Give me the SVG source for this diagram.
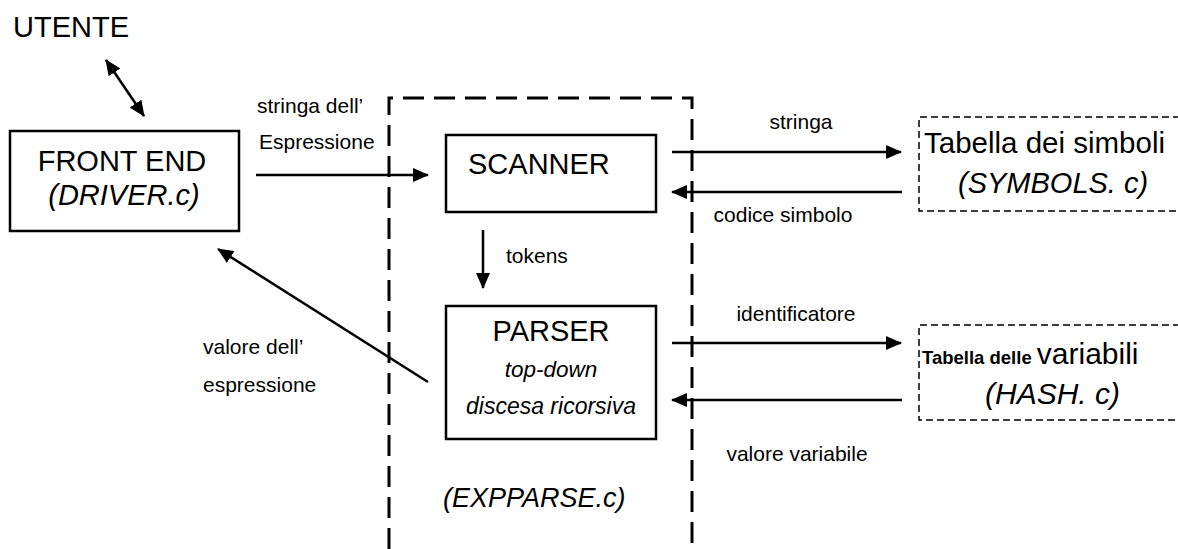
<svg xmlns="http://www.w3.org/2000/svg" width="1178" height="549" viewBox="0 0 1178 549">
<defs>
<marker id="ah" markerUnits="userSpaceOnUse" markerWidth="16" markerHeight="14" refX="15" refY="7" orient="auto-start-reverse">
<path d="M0,0 L16,7 L0,14 Z" fill="#000"/>
</marker>
<style>
.t{font-family:"Liberation Sans",Arial,sans-serif;fill:#000}
.big{font-size:29px}
.sm{font-size:21px}
.it{font-style:italic}
.box{fill:#fff;stroke:#000;stroke-width:2.5}
.dbox{fill:none;stroke:#000;stroke-width:1.5;stroke-dasharray:7,4}
.conn{stroke:#000;stroke-width:2.5;fill:none}
</style>
</defs>
<rect width="1178" height="549" fill="#fff"/>

<g id="expparse">
<path d="M389,549 V98 H692 V549" fill="none" stroke="#000" stroke-width="3" stroke-dasharray="21,10"/>
<text class="t it" style="font-size:27px" x="443" y="507">(EXPPARSE.c)</text>
</g>

<g id="utente">
<text class="t big" x="13" y="37">UTENTE</text>
</g>

<g id="frontend">
<rect class="box" x="10" y="131" width="229" height="100"/>
<text class="t big" x="122" y="171" text-anchor="middle">FRONT END</text>
<text class="t big it" x="124" y="205" text-anchor="middle">(DRIVER.c)</text>
</g>

<g id="scanner">
<rect class="box" x="446" y="135" width="210" height="77"/>
<text class="t big" x="468" y="174">SCANNER</text>
</g>

<g id="parser">
<rect class="box" x="446" y="306" width="210" height="133"/>
<text class="t big" x="551" y="341" text-anchor="middle">PARSER</text>
<text class="t it" style="font-size:22.5px" x="551" y="377" text-anchor="middle">top-down</text>
<text class="t it" style="font-size:23px" x="551" y="414" text-anchor="middle">discesa ricorsiva</text>
</g>

<g id="simboli">
<path class="dbox" d="M1180,117 H919 V211 H1180"/>
<text class="t" style="font-size:29.5px" x="924" y="153">Tabella dei simboli</text>
<text class="t big it" x="958" y="193">(SYMBOLS. c)</text>
</g>

<g id="variabili">
<path class="dbox" d="M1180,325 H919 V420 H1180"/>
<text class="t" x="922" y="364"><tspan style="font-size:18.5px;font-weight:bold">Tabella delle </tspan><tspan style="font-size:30px">variabili</tspan></text>
<text class="t it" style="font-size:30px" x="985" y="404">(HASH. c)</text>
</g>

<g id="connectors">
<line class="conn" x1="106" y1="60" x2="144" y2="116" marker-start="url(#ah)" marker-end="url(#ah)"/>
<line class="conn" x1="256" y1="175" x2="428" y2="175" marker-end="url(#ah)"/>
<line class="conn" x1="483" y1="230" x2="483" y2="288" marker-end="url(#ah)"/>
<line class="conn" x1="428" y1="382" x2="218" y2="249" marker-end="url(#ah)"/>
<line class="conn" x1="672" y1="152" x2="901" y2="152" marker-end="url(#ah)"/>
<line class="conn" x1="902" y1="192" x2="672" y2="192" marker-end="url(#ah)"/>
<line class="conn" x1="672" y1="343" x2="901" y2="343" marker-end="url(#ah)"/>
<line class="conn" x1="902" y1="400" x2="672" y2="400" marker-end="url(#ah)"/>
<text class="t sm" x="257" y="113">stringa dell’</text>
<text class="t sm" x="259" y="149">Espressione</text>
<text class="t sm" x="506" y="263">tokens</text>
<text class="t sm" x="203" y="354">valore dell’</text>
<text class="t sm" x="203" y="392">espressione</text>
<text class="t sm" x="801" y="129" text-anchor="middle">stringa</text>
<text class="t sm" x="783" y="222" text-anchor="middle">codice simbolo</text>
<text class="t sm" x="796" y="321" text-anchor="middle">identificatore</text>
<text class="t sm" x="797" y="461" text-anchor="middle">valore variabile</text>
</g>
</svg>
